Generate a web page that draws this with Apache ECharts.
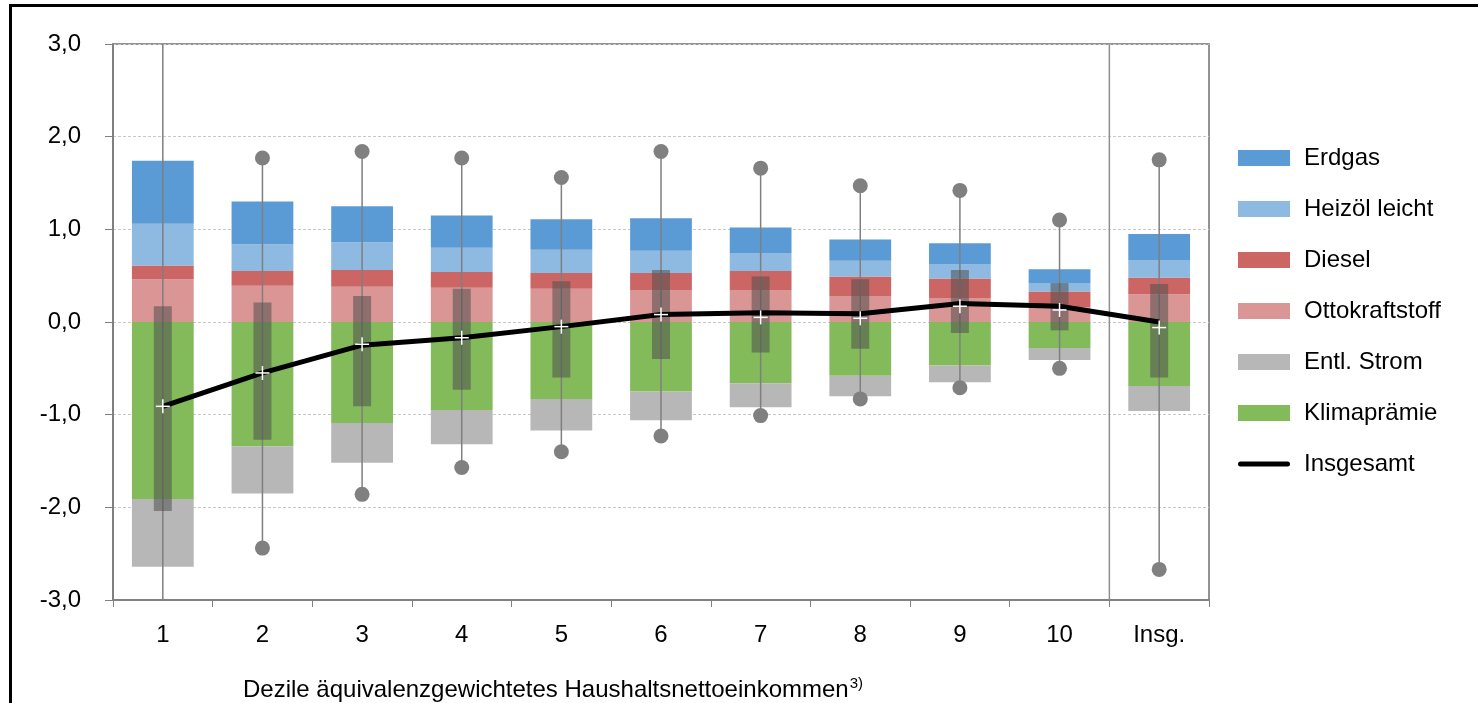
<!DOCTYPE html>
<html>
<head>
<meta charset="utf-8">
<title>Dezile</title>
<script src="https://cdn.jsdelivr.net/npm/echarts@6/dist/echarts.min.js"></script>
<style>
  html, body { margin: 0; padding: 0; background: #fff; }
  #chart { width: 1478px; height: 703px; }
</style>
</head>
<body>
<div id="chart"></div>
<script>
// --- data ---
const categories = ['1', '2', '3', '4', '5', '6', '7', '8', '9', '10', 'Insg.'];
const ottokraftstoff = [0.46, 0.39, 0.38, 0.37, 0.36, 0.34, 0.34, 0.28, 0.26, 0.16, 0.30];
const diesel         = [0.15, 0.16, 0.18, 0.17, 0.17, 0.19, 0.21, 0.21, 0.21, 0.17, 0.18];
const heizoel        = [0.45, 0.29, 0.30, 0.26, 0.25, 0.24, 0.19, 0.17, 0.15, 0.09, 0.19];
const erdgas         = [0.68, 0.46, 0.39, 0.35, 0.33, 0.35, 0.28, 0.23, 0.23, 0.15, 0.28];
const klimapraemie   = [-1.91, -1.34, -1.09, -0.95, -0.83, -0.75, -0.66, -0.58, -0.47, -0.28, -0.69];
const entlStrom      = [-0.73, -0.51, -0.43, -0.37, -0.34, -0.31, -0.26, -0.22, -0.18, -0.13, -0.27];
const insgesamt      = [-0.91, -0.55, -0.25, -0.17, -0.05, 0.08, 0.10, 0.09, 0.20, 0.17, 0.00];

// Verteilung (Box: Quartile, Whisker: Min/Max, Plus: Mittelwert)
const boxLow     = [-2.04, -1.27, -0.91, -0.73, -0.60, -0.40, -0.33, -0.29, -0.12, -0.09, -0.60];
const boxHigh    = [0.17, 0.21, 0.28, 0.36, 0.44, 0.56, 0.49, 0.46, 0.56, 0.42, 0.41];
const whiskerMin = [-3.3, -2.44, -1.86, -1.57, -1.40, -1.23, -1.01, -0.83, -0.71, -0.50, -2.67];
const whiskerMax = [3.3, 1.77, 1.84, 1.77, 1.56, 1.84, 1.66, 1.47, 1.42, 1.10, 1.75];
const meanValues = [-0.91, -0.55, -0.24, -0.17, -0.05, 0.08, 0.05, 0.04, 0.17, 0.13, -0.06];

const yTicks = { min: -3, max: 3, interval: 1 };

const FONT = '"Liberation Sans", Arial, sans-serif';
const GREY = '#808080';

const chart = echarts.init(document.getElementById('chart'));

const barSeries = (name, data, color) => ({
  name,
  type: 'bar',
  stack: 'total',
  barWidth: '62%',
  data,
  itemStyle: { color },
  z: 2
});

const boxData = categories.map((c, i) => [i, boxLow[i], boxHigh[i], whiskerMin[i], whiskerMax[i]]);
const meanData = categories.map((c, i) => [i, meanValues[i]]);

const option = {
  animation: false,
  textStyle: { fontFamily: FONT },
  grid: { left: 113, right: 269, top: 44, bottom: 103, show: true, borderColor: '#707070', borderWidth: 1.5 },
  legend: {
    orient: 'vertical',
    left: 1238,
    top: 145,
    padding: 0,
    itemWidth: 52,
    itemHeight: 16,
    itemGap: 25,
    textStyle: { fontSize: 24, color: '#000', fontFamily: FONT, lineHeight: 26, padding: [0, 0, 0, 9] },
    data: [
      { name: 'Erdgas', icon: 'rect' },
      { name: 'Heizöl leicht', icon: 'rect' },
      { name: 'Diesel', icon: 'rect' },
      { name: 'Ottokraftstoff', icon: 'rect' },
      { name: 'Entl. Strom', icon: 'rect' },
      { name: 'Klimaprämie', icon: 'rect' },
      { name: 'Insgesamt', icon: 'path://M2.5,0H49.5A2.5,2.5,0,0,1,49.5,5H2.5A2.5,2.5,0,0,1,2.5,0Z' }
    ]
  },
  xAxis: {
    type: 'category',
    data: categories,
    axisLine: { onZero: false, lineStyle: { color: GREY, width: 2 } },
    axisTick: { show: true, length: 7, lineStyle: { color: GREY } },
    axisLabel: { fontSize: 24, color: '#000', margin: 23 }
  },
  yAxis: {
    type: 'value',
    min: yTicks.min,
    max: yTicks.max,
    interval: yTicks.interval,
    axisLine: { show: true, lineStyle: { color: GREY, width: 2 } },
    axisTick: { show: true, length: 8, lineStyle: { color: GREY } },
    axisLabel: {
      fontSize: 24, color: '#000', margin: 32,
      formatter: v => v.toFixed(1).replace('.', ',')
    },
    splitLine: { show: true, lineStyle: { color: '#c8c8c8', type: [3, 2], width: 1 } }
  },
  graphic: [
    // outer frame
    { type: 'rect', shape: { x: 9, y: 4, width: 1469, height: 3 }, style: { fill: '#000' } },
    { type: 'rect', shape: { x: 9, y: 4, width: 3, height: 699 }, style: { fill: '#000' } },
    {
      type: 'text', left: 243, top: 676,
      style: {
        text: '{a|Dezile äquivalenzgewichtetes Haushaltsnettoeinkommen}{b|3)}',
        rich: {
          a: { fontSize: 24, fontFamily: FONT, fill: '#000' },
          b: { fontSize: 15, fontFamily: FONT, fill: '#000', padding: [0, 0, 14, 1] }
        }
      }
    }
  ],
  series: [
    barSeries('Ottokraftstoff', ottokraftstoff, '#d99694'),
    barSeries('Diesel', diesel, '#cc6664'),
    barSeries('Heizöl leicht', heizoel, '#8eb9e1'),
    barSeries('Erdgas', erdgas, '#5b9bd5'),
    barSeries('Klimaprämie', klimapraemie, '#83ba5a'),
    barSeries('Entl. Strom', entlStrom, '#b7b7b7'),
    {
      // separator between decile 10 and Insg.
      type: 'custom',
      silent: true,
      z: 3,
      data: [[categories.length - 1]],
      renderItem: (params, api) => {
        const cs = params.coordSys;
        const x = api.coord([api.value(0), 0])[0] - api.size([1, 0])[0] / 2;
        return {
          type: 'line',
          shape: { x1: x, y1: cs.y, x2: x, y2: cs.y + cs.height },
          style: { stroke: '#909090', lineWidth: 1.5 }
        };
      }
    },
    {
      name: 'Verteilung',
      type: 'custom',
      clip: true,
      z: 4,
      data: boxData,
      renderItem: (params, api) => {
        const x = api.coord([api.value(0), 0])[0];
        const yLo = api.coord([api.value(0), api.value(1)])[1];
        const yHi = api.coord([api.value(0), api.value(2)])[1];
        const wLo = api.coord([api.value(0), api.value(3)])[1];
        const wHi = api.coord([api.value(0), api.value(4)])[1];
        const bw = 18;
        return {
          type: 'group',
          children: [
            { type: 'line', shape: { x1: x, y1: wHi, x2: x, y2: wLo }, style: { stroke: '#7f7f7f', lineWidth: 1.5 } },
            { type: 'circle', shape: { cx: x, cy: wHi, r: 7.5 }, style: { fill: '#808080' } },
            { type: 'circle', shape: { cx: x, cy: wLo, r: 7.5 }, style: { fill: '#808080' } },
            { type: 'rect', shape: { x: x - bw / 2, y: yHi, width: bw, height: yLo - yHi }, style: { fill: 'rgba(77,77,77,0.53)' } }
          ]
        };
      }
    },
    {
      name: 'Insgesamt',
      type: 'line',
      data: insgesamt,
      symbol: 'none',
      z: 5,
      lineStyle: { color: '#000', width: 5 },
      itemStyle: { color: '#000' }
    },
    {
      name: 'Mittelwert',
      type: 'custom',
      z: 6,
      data: meanData,
      renderItem: (params, api) => {
        const p = api.coord([api.value(0), api.value(1)]);
        const h = 7;
        return {
          type: 'group',
          children: [
            { type: 'line', shape: { x1: p[0] - h, y1: p[1], x2: p[0] + h, y2: p[1] }, style: { stroke: '#fff', lineWidth: 1.5 } },
            { type: 'line', shape: { x1: p[0], y1: p[1] - h, x2: p[0], y2: p[1] + h }, style: { stroke: '#fff', lineWidth: 1.5 } }
          ]
        };
      }
    }
  ]
};

chart.setOption(option);
</script>
</body>
</html>
